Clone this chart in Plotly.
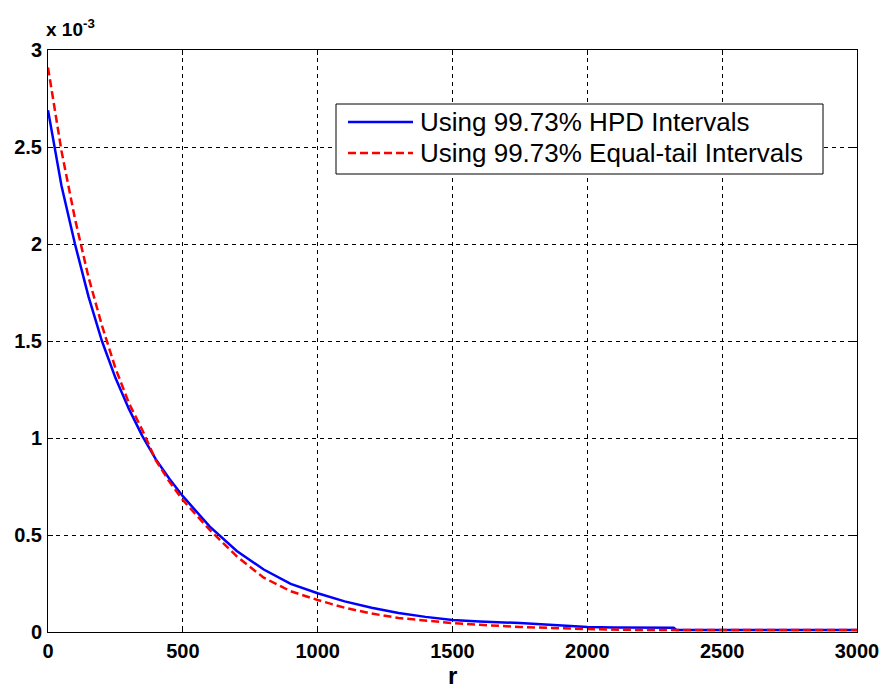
import plotly.graph_objects as go
import numpy as np

# ---- data (y in units of 1e-3) ----
r_hpd = [0, 50, 100, 150, 200, 250, 300, 350, 400, 450, 500, 600, 700, 800, 900,
         1000, 1100, 1200, 1300, 1400, 1500, 1600, 1750, 1900, 2000, 2100, 2320, 2330, 3000]
v_hpd = [2.69, 2.30, 2.00, 1.73, 1.50, 1.31, 1.15, 1.01, 0.89, 0.79, 0.70, 0.543, 0.418, 0.322, 0.248,
         0.20, 0.158, 0.125, 0.098, 0.078, 0.062, 0.054, 0.046, 0.034, 0.026, 0.023, 0.022, 0.01, 0.01]

r_eq = [0, 50, 100, 150, 200, 250, 300, 350, 400, 450, 500, 600, 700, 800, 900,
        1000, 1100, 1200, 1300, 1400, 1500, 1600, 1750, 2000, 2200, 3000]
v_eq = [2.91, 2.48, 2.13, 1.83, 1.58, 1.36, 1.18, 1.04, 0.885, 0.775, 0.68, 0.526, 0.39, 0.28, 0.21,
        0.165, 0.125, 0.095, 0.072, 0.058, 0.046, 0.037, 0.026, 0.015, 0.01, 0.01]

names = ["Using 99.73% HPD Intervals", "Using 99.73% Equal-tail Intervals"]
x_ticks = [0, 500, 1000, 1500, 2000, 2500, 3000]
y_ticks = [0, 0.5, 1, 1.5, 2, 2.5, 3]
y_tick_text = ["0", "0.5", "1", "1.5", "2", "2.5", "3"]
x_label = "r"
scale_text = "x 10<sup>-3</sup>"

# ---- layout constants (pixels) ----
W, H = 879, 691
L, R, T, B = 48, 857, 50, 632
FONT = "Liberation Sans, Arial, sans-serif"


def px(x):
    return (x - L) / (R - L)


def py(y):
    return (B - y) / (B - T)


fig = go.Figure()
fig.add_trace(go.Scatter(x=r_hpd, y=np.array(v_hpd) * 1e-3, mode="lines", name=names[0],
                         line=dict(color="#0000ff", width=2.5), showlegend=False))
fig.add_trace(go.Scatter(x=r_eq, y=np.array(v_eq) * 1e-3, mode="lines", name=names[1],
                         line=dict(color="#ff0000", width=2.5, dash="8px,4px"), showlegend=False))

axis_common = dict(
    showline=True, linecolor="black", linewidth=1, mirror="ticks",
    ticks="inside", ticklen=5, tickcolor="black",
    showgrid=True, gridcolor="black", gridwidth=1, griddash="4px,4px",
    zeroline=False, ticklabeloverflow="allow", automargin=False,
    tickfont=dict(family=FONT, size=20, color="black", weight="bold"),
)

fig.update_xaxes(range=[0, 3000], tickvals=x_ticks, ticklabelstandoff=1, **axis_common)
fig.update_yaxes(range=[0, 3e-3], tickvals=[v * 1e-3 for v in y_ticks], ticktext=y_tick_text,
                 ticklabelstandoff=1, **axis_common)

shapes = []
annotations = []
# legend box
shapes.append(dict(type="rect", xref="paper", yref="paper",
                   x0=px(336), x1=px(823), y0=py(174), y1=py(104),
                   line=dict(color="black", width=1), fillcolor="white", layer="above"))
rows = [122, 153]
styles = [dict(color="#0000ff", width=2.5), dict(color="#ff0000", width=2.5, dash="8px,4px")]
for yy, st, nm in zip(rows, styles, names):
    shapes.append(dict(type="line", xref="paper", yref="paper",
                       x0=px(348), x1=px(413), y0=py(yy), y1=py(yy), line=st, layer="above"))
    annotations.append(dict(xref="paper", yref="paper", x=px(418), y=py(yy),
                            xanchor="left", yanchor="middle", text=nm, showarrow=False,
                            font=dict(family=FONT, size=26, color="black")))

# x label
annotations.append(dict(xref="paper", yref="paper", x=px(452), y=py(691),
                        xanchor="center", yanchor="bottom", text=x_label, showarrow=False,
                        font=dict(family=FONT, size=24, color="black", weight="bold")))
# exponent
annotations.append(dict(xref="paper", yref="paper", x=px(44), y=py(42),
                        xanchor="left", yanchor="bottom", text=scale_text, showarrow=False,
                        font=dict(family=FONT, size=19, color="black", weight="bold")))

fig.update_layout(
    width=W, height=H, autosize=False,
    margin=dict(l=L, r=W - R, t=T, b=H - B, autoexpand=False),
    paper_bgcolor="white", plot_bgcolor="white",
    shapes=shapes, annotations=annotations,
    showlegend=False,
)

fig.write_html(
    "out.html",
    config={"responsive": False, "displayModeBar": False},
    post_script="document.body.style.margin='0px';document.body.style.overflow='hidden';",
)
